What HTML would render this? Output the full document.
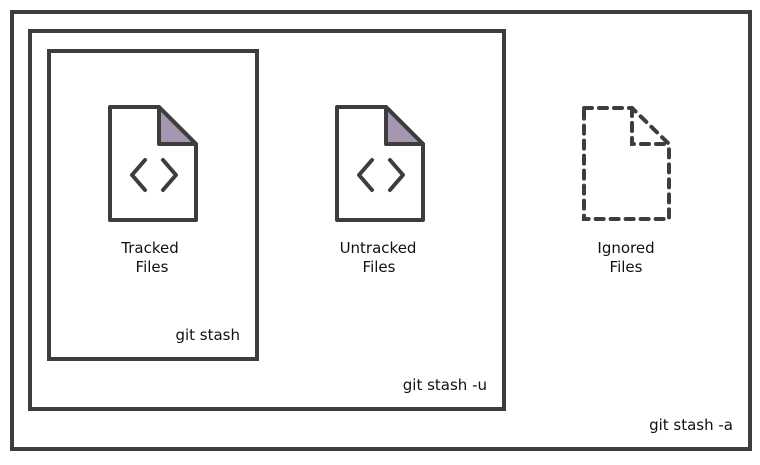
<!DOCTYPE html>
<html><head><meta charset="utf-8"><style>
body{margin:0;background:#fff}
svg text{font-family:"DejaVu Sans","Liberation Sans",sans-serif;font-size:15px;fill:#111}
</style></head><body>
<svg width="760" height="460" viewBox="0 0 760 460">
<rect x="0" y="0" width="760" height="460" fill="#fff"/>
<rect x="12" y="12" width="738" height="437" fill="none" stroke="#3d3d3d" stroke-width="4"/>
<rect x="30" y="31" width="474" height="378" fill="none" stroke="#3d3d3d" stroke-width="4"/>
<rect x="49" y="51" width="208" height="308" fill="none" stroke="#3d3d3d" stroke-width="4"/>

<g stroke="#3d3d3d" stroke-width="4" stroke-linejoin="round">
<path d="M110 107 H159 L196 144 V220 H110 Z" fill="#fff"/>
<path d="M159 107 L196 144 H159 Z" fill="#a596b2"/>
<path d="M145 160 L132 175 L145 190 M163 160 L176 175 L163 190" fill="none" stroke-linecap="round"/>
</g>
<g stroke="#3d3d3d" stroke-width="4" stroke-linejoin="round">
<path d="M337 107 H386 L423 144 V220 H337 Z" fill="#fff"/>
<path d="M386 107 L423 144 H386 Z" fill="#a596b2"/>
<path d="M372 160 L359 175 L372 190 M390 160 L403 175 L390 190" fill="none" stroke-linecap="round"/>
</g>
<g stroke="#3d3d3d" stroke-width="4" fill="none" stroke-dasharray="8 7" stroke-linecap="round">
<path d="M584 108 H632 L669 144 V219 H584 Z"/>
<path d="M632 108 V144 H669"/>
</g>

<text x="150" y="253" text-anchor="middle">Tracked</text>
<text x="152" y="272" text-anchor="middle">Files</text>
<text x="378" y="253" text-anchor="middle">Untracked</text>
<text x="379" y="272" text-anchor="middle">Files</text>
<text x="626" y="253" text-anchor="middle">Ignored</text>
<text x="626" y="272" text-anchor="middle">Files</text>
<text x="240" y="340" text-anchor="end">git stash</text>
<text x="487" y="390" text-anchor="end">git stash -u</text>
<text x="733" y="430" text-anchor="end">git stash -a</text>
</svg>
</body></html>
